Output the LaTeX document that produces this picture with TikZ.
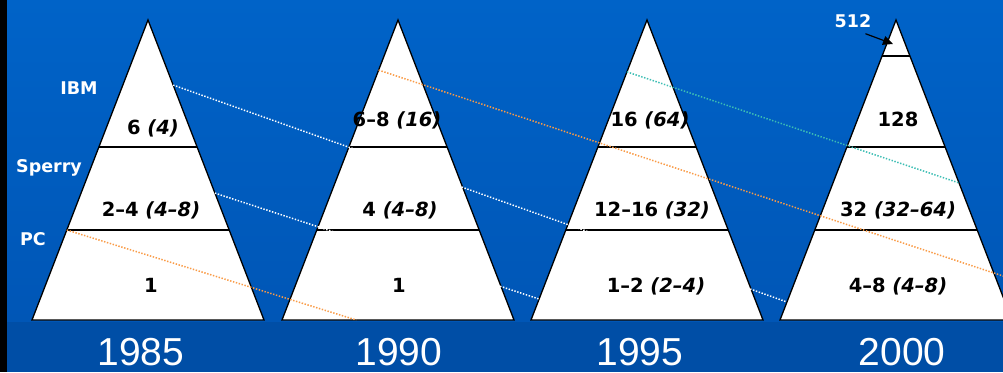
\documentclass[tikz,border=0pt]{standalone}
\usepackage{fontspec}
\setmainfont{Liberation Sans}
\newfontfamily\labelfont[Ligatures=TeX]{DejaVu Sans}
\usetikzlibrary{arrows.meta,calc}

\definecolor{bgtop}{RGB}{0,99,200}
\definecolor{bgbottom}{RGB}{0,86,182}
\definecolor{bgband}{RGB}{0,78,166}
\definecolor{dotorange}{RGB}{250,155,70}
\definecolor{dotteal}{RGB}{60,190,180}
\definecolor{dotwhite}{RGB}{255,255,255}

\tikzset{
  pyramid/.style={fill=white, draw=black, line width=1.3pt},
  tier/.style={draw=black, line width=1.4pt},
  cellnum/.style={font=\labelfont\bfseries\fontsize{19.5}{20}\selectfont, text=black,
    inner sep=0pt, text height=14pt, text depth=0pt},
  vendor/.style={font=\labelfont\bfseries\fontsize{17.5}{18}\selectfont, text=white,
    inner sep=0pt, text height=13pt, text depth=0pt},
  yearlbl/.style={font=\fontsize{39}{40}\selectfont, text=white,
    inner sep=0pt, text height=28pt, text depth=0pt},
  trail/.style={line width=1.5pt, dash pattern=on 1.4pt off 1.6pt}
}

\begin{document}
\begin{tikzpicture}[x=1pt, y=-1pt]
        \useasboundingbox (0,0) rectangle (1003,372);
        % Fondo
        \fill[black] (0,0) rectangle (7,372);
        \shade[top color=bgtop, bottom color=bgbottom] (7,0) rectangle (1003,322);
        \fill[bgband] (7,322) rectangle (1003,372);

        % Piramides
        \foreach \n/\cx/\yx/\yr in {1/148/141/1985, 2/398/399/1990, 3/647/640/1995, 4/896/902/2000}{
            \coordinate (p\n-top) at (\cx,20);
            \coordinate (p\n-bl) at (\cx-116,320);
            \coordinate (p\n-br) at (\cx+116,320);
            \draw[pyramid] (p\n-top) -- (p\n-bl) -- (p\n-br) -- cycle;
            \draw[tier] ($(p\n-top)!0.4233!(p\n-bl)$) -- ($(p\n-top)!0.4233!(p\n-br)$);
            \draw[tier] ($(p\n-top)!0.7!(p\n-bl)$) -- ($(p\n-top)!0.7!(p\n-br)$);
            \node[yearlbl] (year\n) at (\yx,351) {\yr};
        }
        \draw[tier] ($(p4-top)!0.12!(p4-bl)$) -- ($(p4-top)!0.12!(p4-br)$);

        % Lineas punteadas
        \coordinate (ibm-a) at ($(p1-top)!0.217!(p1-br)$);
        \coordinate (ibm-b) at ($(p4-top)!0.94!(p4-bl)$);
        \coordinate (sp-a) at ($(p1-top)!0.577!(p1-br)$);
        \coordinate (sp-b) at ($(p3-top)!0.93!(p3-bl)$);
        \coordinate (pc-a) at ($(p1-top)!0.7!(p1-bl)$);
        \coordinate (pc-b) at ($(p2-bl)!0.32!(p2-br)$);
        \coordinate (or-a) at ($(p2-top)!0.167!(p2-bl)$);
        \coordinate (or-b) at (1003,276);
        \coordinate (te-a) at ($(p3-top)!0.173!(p3-bl)$);
        \coordinate (te-b) at ($(p4-top)!0.543!(p4-br)$);
        \draw[trail, dotwhite] (ibm-a) -- (ibm-b);
        \draw[trail, dotwhite] (sp-a) -- (sp-b);
        \draw[trail, dotorange] (pc-a) -- (pc-b);
        \draw[trail, dotorange] (or-a) -- (or-b);
        \draw[trail, dotteal] (te-a) -- (te-b);

        % Fabricantes
        \node[vendor] (ibm) at (79,88) {IBM};
        \node[vendor] (sperry) at (49,166) {Sperry};
        \node[vendor] (pc) at (33,239) {PC};

        % Valores
        \node[cellnum] (c1a) at (153,127) {6 \itshape(4)};
        \node[cellnum] (c1b) at (151,209) {2--4 \itshape(4--8)};
        \node[cellnum] (c1c) at (151,285) {1};
        \node[cellnum] (c2a) at (397,119) {6--8 \itshape(16)};
        \node[cellnum] (c2b) at (400,209) {4 \itshape(4--8)};
        \node[cellnum] (c2c) at (399,285) {1};
        \node[cellnum] (c3a) at (650,119) {16 \itshape(64)};
        \node[cellnum] (c3b) at (652,209) {12--16 \itshape(32)};
        \node[cellnum] (c3c) at (656,285) {1--2 \itshape(2--4)};
        \node[cellnum] (c4a) at (898,119) {128};
        \node[cellnum] (c4b) at (898,209) {32 \itshape(32--64)};
        \node[cellnum] (c4c) at (898,285) {4--8 \itshape(4--8)};

        % 512
        \node[vendor] (v512) at (853,21) {512};
        \coordinate (cap-tip) at (893,44);
        \draw[-{Triangle[length=10pt,width=9pt]}, line width=1.2pt]
            ([shift={(-6,6)}]v512.south east) -- (cap-tip);
\end{tikzpicture}
\end{document}
